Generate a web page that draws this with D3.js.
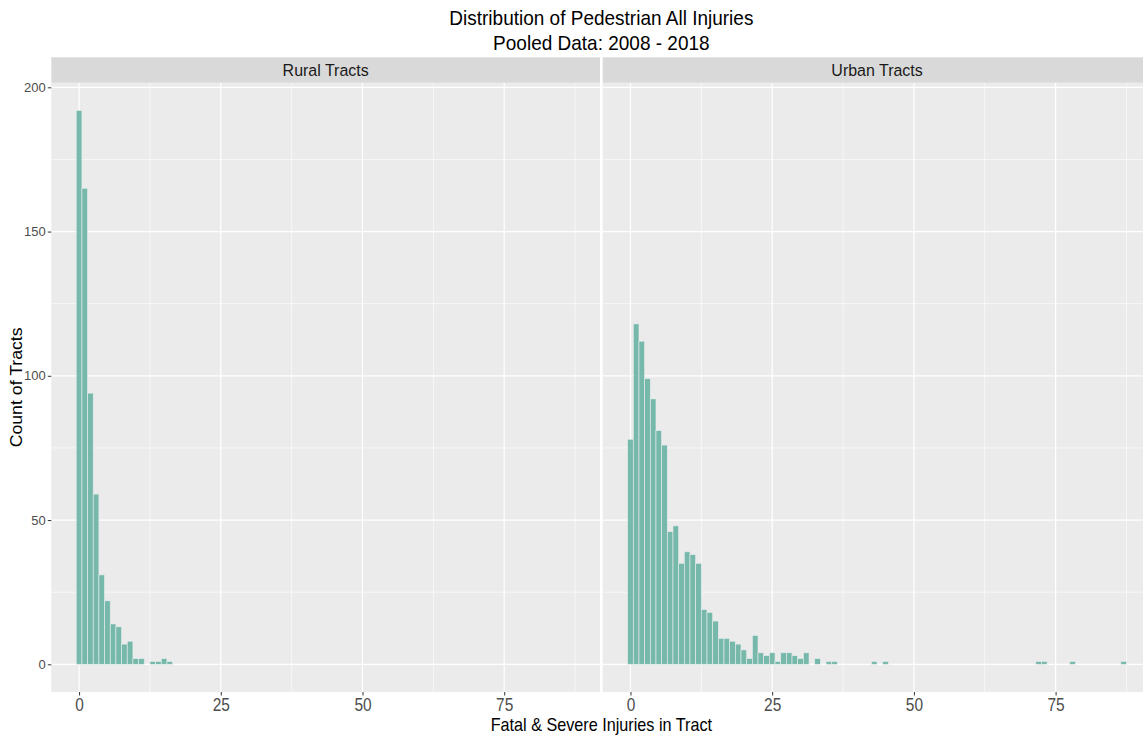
<!DOCTYPE html>
<html>
<head>
<meta charset="utf-8">
<script src="https://cdn.jsdelivr.net/npm/d3@7"></script>
<style>
  body { margin: 0; background: #ffffff; overflow: hidden; }
  text { font-family: "Liberation Sans", Arial, sans-serif; }
</style>
</head>
<body>
<svg id="chart" width="1143" height="737"></svg>
<script>
// Histogram counts (bin width 1, bins centred on whole numbers of injuries)
const facetNames = ["Rural Tracts", "Urban Tracts"];

const ruralBins   = [0, 1, 2, 3, 4, 5, 6, 7, 8, 9, 10, 11, 13, 14, 15, 16];
const ruralCounts = [192, 165, 94, 59, 31, 22, 14, 13, 7, 8, 2, 2, 1, 1, 2, 1];

const urbanBins   = [0, 1, 2, 3, 4, 5, 6, 7, 8, 9, 10, 11, 12, 13, 14, 15, 16, 17, 18, 19,
                     20, 21, 22, 23, 24, 25, 26, 27, 28, 29, 30, 31, 33, 35, 36, 43, 45,
                     72, 73, 78, 87];
const urbanCounts = [78, 118, 112, 99, 92, 81, 76, 46, 48, 35, 39, 38, 35, 19, 18, 15, 9, 9, 8, 7,
                     5, 2, 10, 4, 3, 4, 1, 4, 4, 3, 2, 4, 2, 1, 1, 1, 1,
                     1, 1, 1, 1];

const xTicks      = [0, 25, 50, 75];
const xMinorTicks = [12.5, 37.5, 62.5, 87.5];
const yTicks      = [0, 50, 100, 150, 200];
const yMinorTicks = [25, 75, 125, 175];

const titleLines = ["Distribution of Pedestrian All Injuries", "Pooled Data: 2008 - 2018"];
const xTitle = "Fatal & Severe Injuries in Tract";
const yTitle = "Count of Tracts";

// ---- layout ----
const svg = d3.select("#chart");
const panelTop = 82.7, panelBottom = 692;
const stripTop = 57.3;
const panelW = 548.7, panelGap = 2.7;
const panelLeft = 51.3;
const binWidth = 1;

const facetData = [
  { name: facetNames[0], bins: ruralBins, counts: ruralCounts },
  { name: facetNames[1], bins: urbanBins, counts: urbanCounts }
];

// shared x range over both facets, expanded by 5% on each side
const allBins = ruralBins.concat(urbanBins);
const dataMin = d3.min(allBins) - binWidth / 2;
const dataMax = d3.max(allBins) + binWidth / 2;
const xPad = (dataMax - dataMin) * 0.05;
const yMax = d3.max(ruralCounts.concat(urbanCounts));
const yPad = yMax * 0.05;

const y = d3.scaleLinear().domain([-yPad, yMax + yPad]).range([panelBottom, panelTop]);

// slightly condensed text, centred on (cx, cy)
function condensedText(sel, cx, cy, size, sx, fill, str) {
  return sel.append("text")
    .attr("transform", `translate(${cx},${cy}) scale(${sx},1)`)
    .attr("text-anchor", "middle").attr("font-size", size).attr("fill", fill)
    .text(str);
}

facetData.forEach((f, i) => {
  const x0 = panelLeft + i * (panelW + panelGap);
  const x = d3.scaleLinear().domain([dataMin - xPad, dataMax + xPad]).range([x0, x0 + panelW]);
  const g = svg.append("g");

  // panel background
  g.append("rect").attr("x", x0).attr("y", panelTop)
    .attr("width", panelW).attr("height", panelBottom - panelTop).attr("fill", "#EBEBEB");

  // minor grid
  g.selectAll(null).data(yMinorTicks).join("line")
    .attr("x1", x0).attr("x2", x0 + panelW)
    .attr("y1", d => y(d)).attr("y2", d => y(d))
    .attr("stroke", "#ffffff").attr("stroke-width", 0.6);
  g.selectAll(null).data(xMinorTicks).join("line")
    .attr("x1", d => x(d)).attr("x2", d => x(d))
    .attr("y1", panelTop).attr("y2", panelBottom)
    .attr("stroke", "#ffffff").attr("stroke-width", 0.6);
  // major grid
  g.selectAll(null).data(yTicks).join("line")
    .attr("x1", x0).attr("x2", x0 + panelW)
    .attr("y1", d => y(d)).attr("y2", d => y(d))
    .attr("stroke", "#ffffff").attr("stroke-width", 1.2);
  g.selectAll(null).data(xTicks).join("line")
    .attr("x1", d => x(d)).attr("x2", d => x(d))
    .attr("y1", panelTop).attr("y2", panelBottom)
    .attr("stroke", "#ffffff").attr("stroke-width", 1.2);

  // bars
  g.selectAll(null).data(f.bins.map((b, k) => ({ b, c: f.counts[k] }))).join("rect")
    .attr("x", d => x(d.b - binWidth / 2))
    .attr("width", d => x(d.b + binWidth / 2) - x(d.b - binWidth / 2))
    .attr("y", d => y(d.c))
    .attr("height", d => y(0) - y(d.c))
    .attr("fill", "#69b3a2").attr("fill-opacity", 0.9)
    .attr("stroke", "#e9ecef").attr("stroke-opacity", 0.9).attr("stroke-width", 0.7);

  // strip
  g.append("rect").attr("x", x0).attr("y", stripTop)
    .attr("width", panelW).attr("height", panelTop - stripTop).attr("fill", "#D9D9D9");
  condensedText(g, x0 + panelW / 2, (stripTop + panelTop) / 2 + 6, 17, 0.94, "#1A1A1A", f.name);

  // bottom axis
  const xAxis = g.append("g").attr("transform", `translate(0,${panelBottom})`)
    .call(d3.axisBottom(x).tickValues(xTicks).tickSize(3.5).tickPadding(3));
  xAxis.select(".domain").remove();
  xAxis.selectAll(".tick line").attr("stroke", "#333333").attr("stroke-width", 1);
  xAxis.selectAll(".tick text").attr("font-size", 18).attr("fill", "#4D4D4D")
    .attr("font-family", "Liberation Sans, Arial, sans-serif")
    .attr("transform", "scale(0.86,1)");

  // left axis only on the first facet
  if (i === 0) {
    const yAxis = g.append("g").attr("transform", `translate(${x0},0)`)
      .call(d3.axisLeft(y).tickValues(yTicks).tickSize(3.5).tickPadding(2));
    yAxis.select(".domain").remove();
    yAxis.selectAll(".tick line").attr("stroke", "#333333").attr("stroke-width", 1);
    yAxis.selectAll(".tick text").attr("font-size", 13).attr("fill", "#4D4D4D")
      .attr("font-family", "Liberation Sans, Arial, sans-serif");
  }
});

// titles
const plotCenter = panelLeft + (2 * panelW + panelGap) / 2;
condensedText(svg, plotCenter, 25, 20, 0.95, "#000", titleLines[0]);
condensedText(svg, plotCenter, 50, 20, 0.95, "#000", titleLines[1]);
condensedText(svg, plotCenter, 731, 18, 0.9, "#000", xTitle);

svg.append("text")
  .attr("transform", `translate(22,${(panelTop + panelBottom) / 2}) rotate(-90) scale(1,0.92)`)
  .attr("text-anchor", "middle").attr("font-size", 17.7).attr("fill", "#000")
  .text(yTitle);
</script>
</body>
</html>
